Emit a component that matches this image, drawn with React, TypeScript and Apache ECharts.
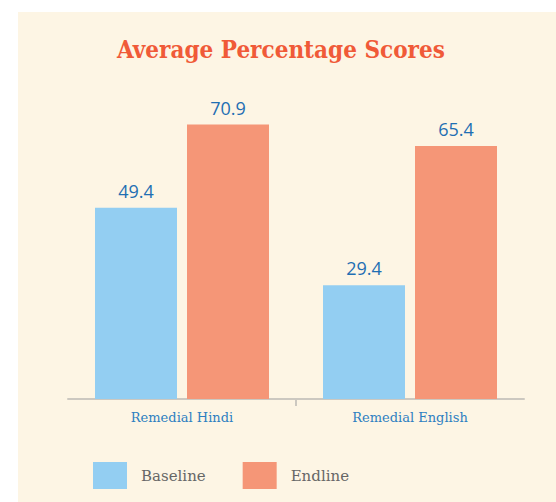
import React, { useEffect, useRef } from "react";
import * as echarts from "echarts";

const categories = ["Remedial Hindi", "Remedial English"];
const baseline = [49.4, 29.4];
const endline = [70.9, 65.4];
const seriesNames = ["Baseline", "Endline"];

export default function App() {
  const ref = useRef<HTMLDivElement>(null);
  useEffect(() => {
    if (!ref.current) return;
    const chart = echarts.init(ref.current, null, { renderer: "svg" });
    const labelStyle = {
      show: true,
      position: "top",
      distance: 8,
      color: "#1f6fb3",
      fontFamily: "Open Sans",
      fontWeight: 500,
      fontSize: 18,
    };
    chart.setOption({
      animation: false,
      backgroundColor: "#fdf5e4",
      title: {
        text: "Average Percentage Scores",
        left: 94,
        top: 20,
        textStyle: {
          color: "#f05a38",
          fontFamily: "DejaVu Serif Condensed",
          fontWeight: "bold",
          fontSize: 24,
        },
      },
      legend: {
        left: 70,
        top: 445,
        itemWidth: 34,
        itemHeight: 27,
        itemGap: 37,
        icon: "rect",
        data: seriesNames,
        textStyle: {
          color: "#666",
          fontFamily: "DejaVu Serif",
          fontSize: 15,
          padding: [0, 0, 0, 9],
        },
      },
      grid: { left: 50, right: 32, top: 0, bottom: 103 },
      xAxis: [
        {
          type: "category",
          data: categories,
          axisLine: { lineStyle: { color: "#ccc8c0", width: 2 } },
          axisTick: { show: false },
          axisLabel: {
            color: "#2d7fc1",
            fontFamily: "DejaVu Serif",
            fontSize: 13,
            margin: 12,
          },
        },
        {
          type: "value",
          position: "bottom",
          min: 0,
          max: 2,
          axisLine: { show: false },
          axisLabel: { show: false },
          splitLine: { show: false },
          axisTick: {
            show: true,
            length: 7,
            customValues: [1],
            lineStyle: { color: "#ccc8c0", width: 2 },
          },
        },
      ],
      yAxis: {
        type: "value",
        min: 0,
        max: 100,
        show: false,
        splitLine: { show: false },
      },
      series: [
        {
          name: seriesNames[0],
          type: "bar",
          data: baseline,
          barWidth: 82,
          barGap: "12.2%",
          itemStyle: { color: "#93cef2" },
          label: labelStyle,
        },
        {
          name: seriesNames[1],
          type: "bar",
          data: endline,
          barWidth: 82,
          itemStyle: { color: "#f59677" },
          label: labelStyle,
        },
      ],
    });
    return () => chart.dispose();
  }, []);
  return (
    <div style={{ position: "absolute", left: 0, top: 0, width: 556, height: 502, background: "#fff" }}>
      <div ref={ref} style={{ position: "absolute", left: 18, top: 12, width: 538, height: 490 }} />
    </div>
  );
}
